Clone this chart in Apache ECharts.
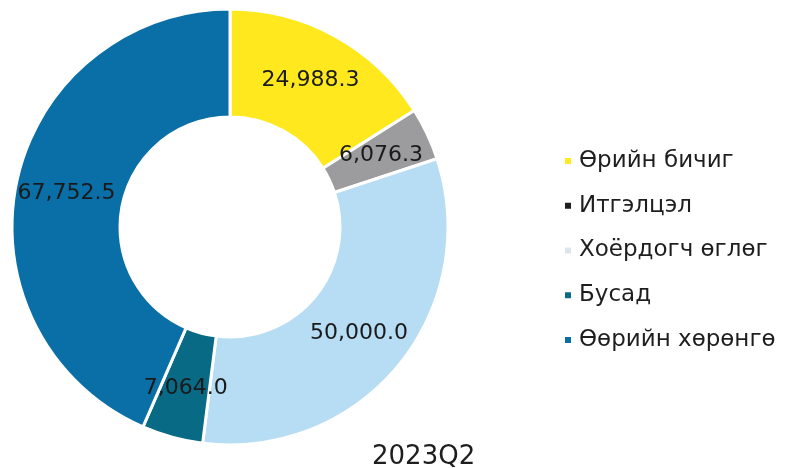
<!DOCTYPE html>
<html>
<head>
<meta charset="utf-8">
<script src="https://cdn.jsdelivr.net/npm/echarts@6/dist/echarts.min.js"></script>
<style>html,body{margin:0;padding:0;background:#fff;}#c{width:796px;height:468px;}</style>
</head>
<body>
<div id="c"></div>
<script>
const categories = ['Өрийн бичиг', 'Итгэлцэл', 'Хоёрдогч өглөг', 'Бусад', 'Өөрийн хөрөнгө'];
const values = [24988.3, 6076.3, 50000.0, 7064.0, 67752.5];
const sliceColors = ['#FFE91E', '#9C9C9E', '#B6DDF3', '#086A85', '#0A6EA7'];
const legendColors = ['#FFE91E', '#1E1E1E', '#DCE6EC', '#086A85', '#0A6EA7'];
const titleText = '2023Q2';

const fmt = v => v.toLocaleString('en-US', {minimumFractionDigits: 1, maximumFractionDigits: 1});
const chart = echarts.init(document.getElementById('c'));
chart.setOption({
  animation: false,
  backgroundColor: '#fff',
  title: {
    text: titleText,
    left: 367, top: 439,
    textStyle: {fontFamily: 'DejaVu Sans', fontSize: 26, fontWeight: 'normal', color: '#1e1e1e'}
  },
  legend: {
    orient: 'vertical',
    left: 558, top: 144,
    itemWidth: 8, itemHeight: 8,
    itemGap: 20.75,
    icon: 'rect',
    textStyle: {fontFamily: 'DejaVu Sans', fontSize: 23, lineHeight: 24, color: '#1e1e1e', padding: [0,0,0,2]},
    data: categories.map((n, i) => ({name: n, itemStyle: {color: legendColors[i]}}))
  },
  series: [{
    type: 'pie',
    center: [230, 227],
    radius: [110, 218],
    startAngle: 90,
    clockwise: true,
    avoidLabelOverlap: false,
    itemStyle: {borderColor: '#fff', borderWidth: 3},
    label: {
      show: true, position: 'inside',
      fontFamily: 'DejaVu Sans', fontSize: 22, color: '#1a1a1a',
      formatter: p => fmt(p.value)
    },
    labelLine: {show: false},
    emphasis: {disabled: true},
    data: categories.map((n, i) => ({name: n, value: values[i], itemStyle: {color: sliceColors[i]}}))
  }]
});
</script>
</body>
</html>
